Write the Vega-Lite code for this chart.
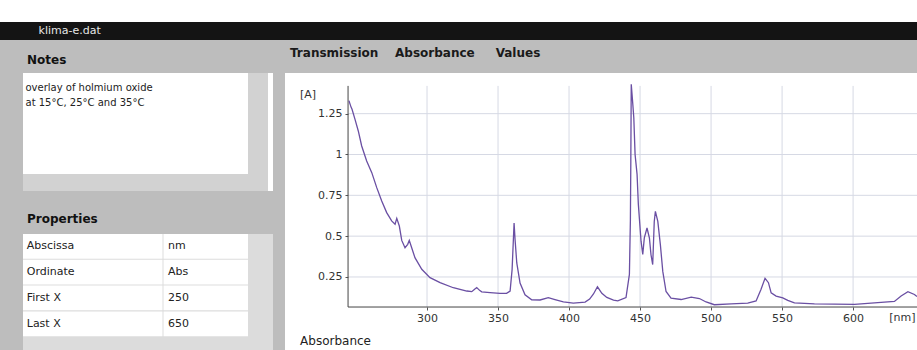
{
  "$schema": "https://vega.github.io/schema/vega-lite/v6.json",
  "background": "#bdbdbd",
  "padding": 0,
  "config": {"view": {"stroke": null}, "font": "DejaVu Sans"},
  "datasets": {
    "file": [{"name": "klima-e.dat"}],
    "notes": [
      {"line": 1, "text": "overlay of holmium oxide"},
      {"line": 2, "text": "at 15°C, 25°C and 35°C"}
    ],
    "props": [
      {"property": "Abscissa", "value": "nm"},
      {"property": "Ordinate", "value": "Abs"},
      {"property": "First X", "value": "250"},
      {"property": "Last X", "value": "650"}
    ],
    "ygrid": [{"value": 0.25}, {"value": 0.5}, {"value": 0.75}, {"value": 1}, {"value": 1.25}],
    "xgrid": [{"value": 300}, {"value": 350}, {"value": 400}, {"value": 450}, {"value": 500}, {"value": 550}, {"value": 600}],
    "spectrum": [
      {"nm": 245.0, "A": 1.33}, {"nm": 246.5, "A": 1.29}, {"nm": 247.2, "A": 1.277}, {"nm": 249.3, "A": 1.215},
      {"nm": 251.6, "A": 1.144}, {"nm": 254.0, "A": 1.052}, {"nm": 257.5, "A": 0.96}, {"nm": 261.1, "A": 0.889},
      {"nm": 264.6, "A": 0.797}, {"nm": 268.1, "A": 0.715}, {"nm": 271.6, "A": 0.644}, {"nm": 275.1, "A": 0.593},
      {"nm": 277.5, "A": 0.573}, {"nm": 278.7, "A": 0.609}, {"nm": 280.5, "A": 0.562}, {"nm": 282.2, "A": 0.474},
      {"nm": 284.5, "A": 0.429}, {"nm": 286.4, "A": 0.45}, {"nm": 287.5, "A": 0.474}, {"nm": 289.2, "A": 0.429},
      {"nm": 291.5, "A": 0.368}, {"nm": 296.3, "A": 0.297}, {"nm": 302.1, "A": 0.246}, {"nm": 309.2, "A": 0.215},
      {"nm": 318.5, "A": 0.184}, {"nm": 328.0, "A": 0.164}, {"nm": 331.5, "A": 0.16}, {"nm": 333.5, "A": 0.175},
      {"nm": 335.0, "A": 0.185}, {"nm": 337.0, "A": 0.168}, {"nm": 338.5, "A": 0.159}, {"nm": 344.4, "A": 0.154},
      {"nm": 351.4, "A": 0.149}, {"nm": 356.0, "A": 0.15}, {"nm": 358.5, "A": 0.163}, {"nm": 359.9, "A": 0.295},
      {"nm": 360.8, "A": 0.478}, {"nm": 361.3, "A": 0.58}, {"nm": 362.0, "A": 0.478}, {"nm": 363.2, "A": 0.336},
      {"nm": 365.5, "A": 0.213}, {"nm": 369.0, "A": 0.141}, {"nm": 373.7, "A": 0.11}, {"nm": 379.6, "A": 0.109},
      {"nm": 385.4, "A": 0.123}, {"nm": 390.1, "A": 0.112}, {"nm": 396.0, "A": 0.097}, {"nm": 403.0, "A": 0.09},
      {"nm": 411.3, "A": 0.096}, {"nm": 414.5, "A": 0.115}, {"nm": 417.2, "A": 0.146}, {"nm": 420.0, "A": 0.19},
      {"nm": 423.1, "A": 0.15}, {"nm": 426.6, "A": 0.125}, {"nm": 431.3, "A": 0.108}, {"nm": 434.3, "A": 0.104},
      {"nm": 440.1, "A": 0.124}, {"nm": 442.5, "A": 0.266}, {"nm": 443.2, "A": 0.6}, {"nm": 443.5, "A": 0.96},
      {"nm": 443.8, "A": 1.43}, {"nm": 444.9, "A": 1.307}, {"nm": 445.6, "A": 1.225}, {"nm": 446.5, "A": 1.0},
      {"nm": 447.9, "A": 0.878}, {"nm": 448.8, "A": 0.694}, {"nm": 450.7, "A": 0.469}, {"nm": 451.9, "A": 0.388},
      {"nm": 453.0, "A": 0.489}, {"nm": 454.9, "A": 0.55}, {"nm": 456.6, "A": 0.488}, {"nm": 457.7, "A": 0.386},
      {"nm": 458.9, "A": 0.326}, {"nm": 460.0, "A": 0.59}, {"nm": 460.8, "A": 0.652}, {"nm": 462.5, "A": 0.59},
      {"nm": 464.3, "A": 0.448}, {"nm": 466.0, "A": 0.284}, {"nm": 468.3, "A": 0.161}, {"nm": 471.8, "A": 0.12},
      {"nm": 478.9, "A": 0.112}, {"nm": 486.0, "A": 0.126}, {"nm": 491.8, "A": 0.118}, {"nm": 496.5, "A": 0.097},
      {"nm": 502.3, "A": 0.08}, {"nm": 514.1, "A": 0.085}, {"nm": 525.8, "A": 0.09}, {"nm": 531.7, "A": 0.103},
      {"nm": 535.2, "A": 0.175}, {"nm": 538.0, "A": 0.242}, {"nm": 540.4, "A": 0.215}, {"nm": 542.3, "A": 0.153},
      {"nm": 545.8, "A": 0.133}, {"nm": 550.5, "A": 0.122}, {"nm": 554.0, "A": 0.107}, {"nm": 558.7, "A": 0.091},
      {"nm": 572.8, "A": 0.085}, {"nm": 601.0, "A": 0.082}, {"nm": 619.7, "A": 0.094}, {"nm": 629.1, "A": 0.1},
      {"nm": 633.8, "A": 0.134}, {"nm": 638.6, "A": 0.16}, {"nm": 643.2, "A": 0.143}, {"nm": 645.0, "A": 0.13}
    ]
  },
  "spacing": 7,
  "vconcat": [
    {
      "spacing": 0,
      "vconcat": [
        {
          "width": 917, "height": 22,
          "view": {"fill": "#ffffff", "stroke": null},
          "data": {"values": []},
          "mark": "rect",
          "encoding": {}
        },
        {
          "width": 917, "height": 18,
          "view": {"fill": "#141414", "stroke": null},
          "data": {"name": "file"},
          "mark": {"type": "text", "align": "left", "baseline": "middle", "color": "#e6e6e6", "fontSize": 11},
          "encoding": {
            "x": {"datum": 4.2, "type": "quantitative", "scale": {"domain": [0, 100]}, "axis": null},
            "text": {"field": "name"}
          }
        }
      ]
    },
    {
      "spacing": 12,
      "hconcat": [
        {
          "width": 11, "height": 10,
          "data": {"values": []},
          "mark": "rect",
          "encoding": {}
        },
        {
          "spacing": 22,
          "vconcat": [
            {
              "width": 250, "height": 118,
              "view": {"fill": "#ffffff", "stroke": null},
              "title": {"text": ["", "Notes"], "lineHeight": 7, "anchor": "start", "dx": 4, "offset": 6, "fontSize": 12, "fontWeight": "bold", "color": "#111111"},
              "layer": [
                {
                  "data": {"values": [{}]},
                  "mark": {"type": "rect", "fill": "#d2d2d2"},
                  "encoding": {
                    "x": {"datum": 90, "type": "quantitative", "scale": {"domain": [0, 100]}, "axis": null},
                    "x2": {"datum": 98}
                  }
                },
                {
                  "data": {"values": [{}]},
                  "mark": {"type": "rect", "fill": "#d2d2d2"},
                  "encoding": {
                    "x": {"datum": 0, "type": "quantitative", "axis": null},
                    "x2": {"datum": 90},
                    "y": {"datum": 6.733, "type": "quantitative", "axis": null},
                    "y2": {"datum": 7.867}
                  }
                },
                {
                  "data": {"name": "notes"},
                  "mark": {"type": "text", "align": "left", "baseline": "middle", "fontSize": 10, "color": "#222222"},
                  "encoding": {
                    "x": {"datum": 1, "type": "quantitative", "axis": null},
                    "y": {"field": "line", "type": "quantitative", "scale": {"domain": [0, 7.867], "reverse": true, "nice": false, "zero": false}, "axis": null},
                    "text": {"field": "text"}
                  }
                }
              ]
            },
            {
              "width": 250, "height": 118,
              "view": {"fill": "#dcdcdc", "stroke": null},
              "title": {"text": "Properties", "anchor": "start", "dx": 4, "offset": 8, "fontSize": 12, "fontWeight": "bold", "color": "#111111"},
              "data": {"name": "props"},
              "encoding": {
                "y": {"field": "property", "type": "nominal", "sort": null, "scale": {"paddingInner": 0.04, "paddingOuter": 0.307, "align": 0}, "axis": null}
              },
              "layer": [
                {
                  "mark": {"type": "rect", "fill": "#ffffff"},
                  "encoding": {
                    "x": {"datum": 0, "type": "quantitative", "scale": {"domain": [0, 100]}, "axis": null},
                    "x2": {"datum": 55.8}
                  }
                },
                {
                  "mark": {"type": "rect", "fill": "#ffffff"},
                  "encoding": {
                    "x": {"datum": 56.2, "type": "quantitative", "axis": null},
                    "x2": {"datum": 90}
                  }
                },
                {
                  "mark": {"type": "text", "align": "left", "baseline": "middle", "fontSize": 11, "color": "#222222"},
                  "encoding": {
                    "x": {"datum": 1.5, "type": "quantitative", "axis": null},
                    "text": {"field": "property"}
                  }
                },
                {
                  "mark": {"type": "text", "align": "left", "baseline": "middle", "fontSize": 11, "color": "#222222"},
                  "encoding": {
                    "x": {"datum": 58, "type": "quantitative", "axis": null},
                    "text": {"field": "value"}
                  }
                }
              ]
            }
          ]
        },
        {
          "width": 632, "height": 278,
          "view": {"fill": "#ffffff", "stroke": null},
          "title": {"text": "Transmission\u00a0\u00a0\u00a0\u00a0Absorbance\u00a0\u00a0\u00a0\u00a0\u00a0Values", "anchor": "start", "dx": 5, "offset": 13, "fontSize": 12, "fontWeight": "bold", "color": "#1a1a1a"},
          "layer": [
            {
              "data": {"name": "ygrid"},
              "mark": {"type": "rule", "color": "#d6d9e4", "strokeWidth": 1},
              "encoding": {
                "y": {"field": "value", "type": "quantitative"},
                "x": {"datum": 244.4, "type": "quantitative"},
                "x2": {"datum": 645}
              }
            },
            {
              "data": {"name": "xgrid"},
              "mark": {"type": "rule", "color": "#d6d9e4", "strokeWidth": 1},
              "encoding": {
                "x": {"field": "value", "type": "quantitative"},
                "y": {"datum": 0.066, "type": "quantitative"},
                "y2": {"datum": 1.42}
              }
            },
            {
              "data": {"values": [{}]},
              "mark": {"type": "rule", "color": "#444444", "strokeWidth": 1},
              "encoding": {
                "x": {"datum": 244.4, "type": "quantitative"},
                "y": {"datum": 0.066, "type": "quantitative"},
                "y2": {"datum": 1.42}
              }
            },
            {
              "data": {"values": [{}]},
              "mark": {"type": "rule", "color": "#444444", "strokeWidth": 1},
              "encoding": {
                "y": {"datum": 0.066, "type": "quantitative"},
                "x": {"datum": 244.4, "type": "quantitative"},
                "x2": {"datum": 645}
              }
            },
            {
              "data": {"name": "spectrum"},
              "mark": {"type": "line", "color": "#6a4fa3", "strokeWidth": 1.3},
              "encoding": {
                "x": {
                  "field": "nm", "type": "quantitative",
                  "scale": {"domain": [200, 645], "nice": false, "zero": false},
                  "axis": {"values": [300, 350, 400, 450, 500, 550, 600], "format": "d", "offset": -44, "domain": false, "grid": false, "ticks": true, "tickSize": 3, "tickColor": "#555555", "labelPadding": 2, "labelFontSize": 11, "labelColor": "#333333", "title": null, "labelOverlap": false}
                },
                "y": {
                  "field": "A", "type": "quantitative",
                  "scale": {"domain": [-0.2033, 1.499], "nice": false, "zero": false},
                  "axis": {"values": [0.25, 0.5, 0.75, 1, 1.25], "format": ".3~g", "offset": -63, "domain": false, "grid": false, "ticks": true, "tickSize": 3, "tickColor": "#555555", "labelPadding": 3, "labelFontSize": 11, "labelColor": "#333333", "title": null, "labelOverlap": false}
                }
              }
            },
            {
              "data": {"values": [{"label": "[A]"}]},
              "mark": {"type": "text", "align": "left", "baseline": "middle", "fontSize": 11, "color": "#333333"},
              "encoding": {
                "x": {"datum": 210.6, "type": "quantitative"},
                "y": {"datum": 1.364, "type": "quantitative"},
                "text": {"field": "label"}
              }
            },
            {
              "data": {"values": [{"label": "[nm]"}]},
              "mark": {"type": "text", "align": "right", "baseline": "top", "fontSize": 11, "color": "#333333"},
              "encoding": {
                "x": {"datum": 644, "type": "quantitative"},
                "y": {"datum": 0.0355, "type": "quantitative"},
                "text": {"field": "label"}
              }
            },
            {
              "data": {"values": [{"label": "Absorbance"}]},
              "mark": {"type": "text", "align": "left", "baseline": "middle", "fontSize": 12, "color": "#222222"},
              "encoding": {
                "x": {"datum": 210.6, "type": "quantitative"},
                "y": {"datum": -0.142, "type": "quantitative"},
                "text": {"field": "label"}
              }
            }
          ]
        }
      ]
    }
  ]
}
